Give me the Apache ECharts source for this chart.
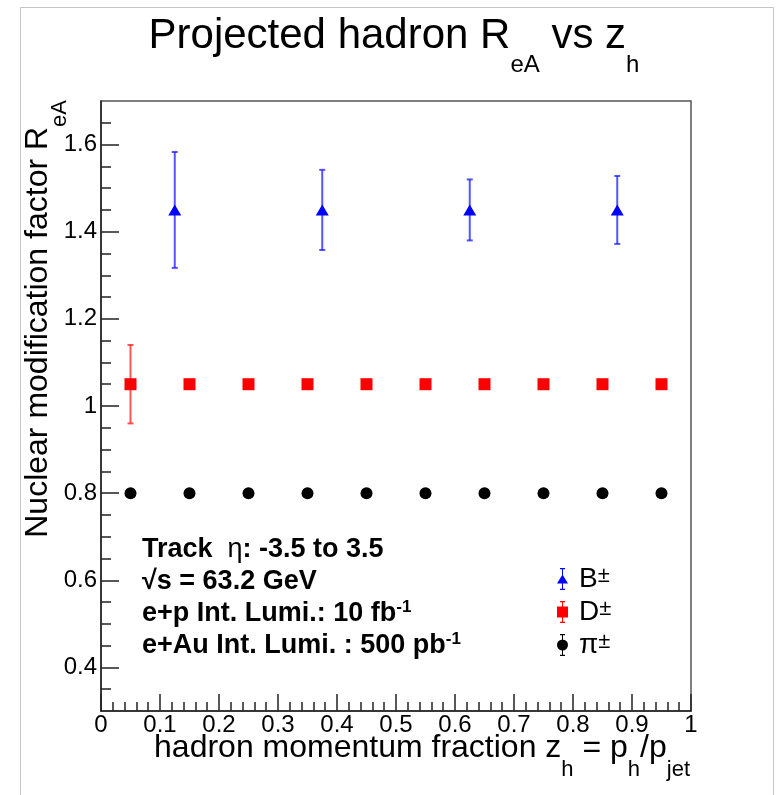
<!DOCTYPE html>
<html>
<head>
<meta charset="utf-8">
<title>Projected hadron ReA vs zh</title>
<script src="https://cdn.jsdelivr.net/npm/echarts@6/dist/echarts.min.js"></script>
<style>
  html, body { margin: 0; padding: 0; background: #fff; }
  #chart { width: 780px; height: 795px; }
</style>
</head>
<body>
<div id="chart"></div>
<script>
  // B mesons
  const zB = [0.125, 0.375, 0.625, 0.875];
  const rB = [1.45, 1.45, 1.45, 1.45];
  const errB = [0.133, 0.092, 0.07, 0.078];
  // D mesons
  const zD = [0.05, 0.15, 0.25, 0.35, 0.45, 0.55, 0.65, 0.75, 0.85, 0.95];
  const rD = [1.05, 1.05, 1.05, 1.05, 1.05, 1.05, 1.05, 1.05, 1.05, 1.05];
  const errD = [0.09, 0, 0, 0, 0, 0, 0, 0, 0, 0];
  // pions
  const zPi = [0.05, 0.15, 0.25, 0.35, 0.45, 0.55, 0.65, 0.75, 0.85, 0.95];
  const rPi = [0.8, 0.8, 0.8, 0.8, 0.8, 0.8, 0.8, 0.8, 0.8, 0.8];
  const errPi = [0, 0, 0, 0, 0, 0, 0, 0, 0, 0];

  const yMajor = [0.4, 0.6, 0.8, 1, 1.2, 1.4, 1.6];
  const yMinor = [0.35, 0.45, 0.5, 0.55, 0.65, 0.7, 0.75, 0.85, 0.9, 0.95, 1.05, 1.1, 1.15,
                  1.25, 1.3, 1.35, 1.45, 1.5, 1.55, 1.65];

  const titleText = '{a|Projected hadron R}{s|eA}{a| vs z}{s|h}';
  const xTitle = '{a|hadron momentum fraction z}{s|h}{a| = p}{s|h}{a|/p}{s|jet}';
  const yTitle = '{a|Nuclear modification factor R}{s|eA}';
  const infoLines = [
    '{b|Track  }{n|η}{b|: -3.5 to 3.5}',
    '{b|√s = 63.2 GeV}',
    '{b|e+p Int. Lumi.: 10 fb}{u|-1}',
    '{b|e+Au Int. Lumi. : 500 pb}{u|-1}'
  ];

  const FONT = '"Liberation Sans", Arial, Helvetica, sans-serif';
  const chart = echarts.init(document.getElementById('chart'));

  // error bars drawn through the axis scales
  function errorSeries(xs, ys, errs, color) {
    return {
      type: 'custom',
      xAxisIndex: 0,
      yAxisIndex: 0,
      silent: true,
      z: 1,
      encode: { x: 0, y: [1, 2] },
      data: xs.map((x, i) => [x, ys[i] - errs[i], ys[i] + errs[i]]),
      renderItem: (params, api) => {
        if (api.value(2) - api.value(1) <= 0) return null;
        const lo = api.coord([api.value(0), api.value(1)]);
        const hi = api.coord([api.value(0), api.value(2)]);
        const st = { stroke: color, lineWidth: 2 };
        const w = 3;
        return {
          type: 'group',
          children: [
            { type: 'line', shape: { x1: lo[0], y1: lo[1], x2: hi[0], y2: hi[1] }, style: st },
            { type: 'line', shape: { x1: lo[0] - w, y1: lo[1], x2: lo[0] + w, y2: lo[1] }, style: st },
            { type: 'line', shape: { x1: hi[0] - w, y1: hi[1], x2: hi[0] + w, y2: hi[1] }, style: st }
          ]
        };
      }
    };
  }

  function markers(name, xs, ys, symbol, size, color) {
    return {
      name: name,
      type: 'scatter',
      xAxisIndex: 0,
      yAxisIndex: 0,
      symbol: symbol,
      symbolSize: size,
      itemStyle: { color: color, opacity: 1 },
      z: 3,
      silent: true,
      data: xs.map((x, i) => [x, ys[i]])
    };
  }

  const bar = 'M5 0H6V22H5Z M3 0H8V1.2H3Z M3 20.8H8V22H3Z ';
  const iconB = 'path://' + bar + 'M0 15.5L5.5 6.5L11 15.5Z';
  const iconD = 'path://' + bar + 'M0 5.5H11V16.5H0Z';
  const iconPi = 'path://' + bar + 'M0 11A5.5 5.5 0 1 1 11 11A5.5 5.5 0 1 1 0 11Z';

  const axisCol = '#222';

  const option = {
    animation: false,
    backgroundColor: '#fff',
    grid: {
      left: 101, right: 89, top: 101, bottom: 84,
      show: true, borderColor: '#555', borderWidth: 1.5,
      backgroundColor: 'transparent',
      outerBoundsMode: 'none'
    },
    xAxis: {
      type: 'value', min: 0, max: 1, interval: 0.1,
      axisLine: { onZero: false, lineStyle: { color: axisCol, width: 1.5 } },
      axisTick: { inside: true, length: 17, lineStyle: { color: axisCol, width: 1.5 } },
      minorTick: { show: true, splitNumber: 5, length: 9, lineStyle: { color: axisCol, width: 1.5 } },
      axisLabel: { fontSize: 24, fontFamily: FONT, color: '#000', margin: 2, showMinLabel: true, showMaxLabel: true },
      splitLine: { show: false }
    },
    yAxis: [{
      type: 'value', min: 0.3, max: 1.7, position: 'left',
      axisLine: { onZero: false, lineStyle: { color: axisCol, width: 1.5 } },
      axisTick: { inside: true, length: 18, customValues: yMajor, lineStyle: { color: axisCol, width: 1.5 } },
      axisLabel: { fontSize: 24, fontFamily: FONT, color: '#000', margin: 4, customValues: yMajor },
      splitLine: { show: false }
    }, {
      type: 'value', min: 0.3, max: 1.7, position: 'left',
      axisLine: { show: false },
      axisTick: { inside: true, length: 10, customValues: yMinor, lineStyle: { color: axisCol, width: 1.5 } },
      axisLabel: { show: false },
      splitLine: { show: false }
    }],
    legend: {
      orient: 'vertical', left: 557, top: 565, padding: 0,
      itemWidth: 11, itemHeight: 22, itemGap: 5,
      selectedMode: false,
      data: [
        { name: 'B±', icon: iconB },
        { name: 'D±', icon: iconD },
        { name: 'π±', icon: iconPi }
      ],
      formatter: name => '{m|' + name.slice(0, -1) + '}{s|±}',
      textStyle: {
        color: '#000',
        rich: {
          m: { fontSize: 28, fontFamily: FONT, color: '#000', lineHeight: 28, verticalAlign: 'top', padding: [0, 0, 0, 6] },
          s: { fontSize: 22, fontFamily: FONT, color: '#000', lineHeight: 10, verticalAlign: 'top' }
        }
      }
    },
    graphic: [
      {
        type: 'rect', z: -10, silent: true,
        shape: { x: 20.5, y: 7.5, width: 753, height: 800 },
        style: { fill: 'none', stroke: '#c4c4c4', lineWidth: 1 }
      },
      {
        type: 'text', x: 394, y: 15, silent: true,
        style: {
          text: titleText, align: 'center', verticalAlign: 'top', fill: '#000',
          rich: {
            a: { fontSize: 42, fontFamily: FONT, fill: '#000', verticalAlign: 'top' },
            s: { fontSize: 24, fontFamily: FONT, fill: '#000', verticalAlign: 'top', padding: [38, 0, 0, 0] }
          }
        }
      },
      {
        type: 'text', x: 690, y: 732, silent: true,
        style: {
          text: xTitle, align: 'right', verticalAlign: 'top', fill: '#000',
          rich: {
            a: { fontSize: 32, fontFamily: FONT, fill: '#000', verticalAlign: 'top' },
            s: { fontSize: 22, fontFamily: FONT, fill: '#000', verticalAlign: 'top', padding: [27, 0, 0, 0] }
          }
        }
      },
      {
        type: 'text', x: 22, y: 100, rotation: Math.PI / 2, silent: true,
        style: {
          text: yTitle, align: 'right', verticalAlign: 'top', fill: '#000',
          rich: {
            a: { fontSize: 32, fontFamily: FONT, fill: '#000', verticalAlign: 'top' },
            s: { fontSize: 22, fontFamily: FONT, fill: '#000', verticalAlign: 'top', padding: [27, 0, 0, 0] }
          }
        }
      }
    ].concat(infoLines.map((t, i) => ({
      type: 'text', x: 142, y: 550 + 32 * i, silent: true,
      style: {
        text: t, align: 'left', verticalAlign: 'middle', fill: '#000',
        rich: {
          b: { fontSize: 27, fontWeight: 'bold', fontFamily: FONT, fill: '#000', lineHeight: 30 },
          n: { fontSize: 27, fontFamily: FONT, fill: '#000', lineHeight: 30 },
          u: { fontSize: 17, fontWeight: 'bold', fontFamily: FONT, fill: '#000', verticalAlign: 'top' }
        }
      }
    }))),
    series: [
      errorSeries(zB, rB, errB, 'rgba(30,30,255,0.75)'),
      errorSeries(zD, rD, errD, 'rgba(255,30,30,0.75)'),
      errorSeries(zPi, rPi, errPi, 'rgba(0,0,0,0.75)'),
      markers('B±', zB, rB, 'triangle', [13, 11], '#0000ff'),
      markers('D±', zD, rD, 'rect', 12, '#ff0000'),
      markers('π±', zPi, rPi, 'circle', 12, '#000000')
    ]
  };

  chart.setOption(option);
</script>
</body>
</html>
